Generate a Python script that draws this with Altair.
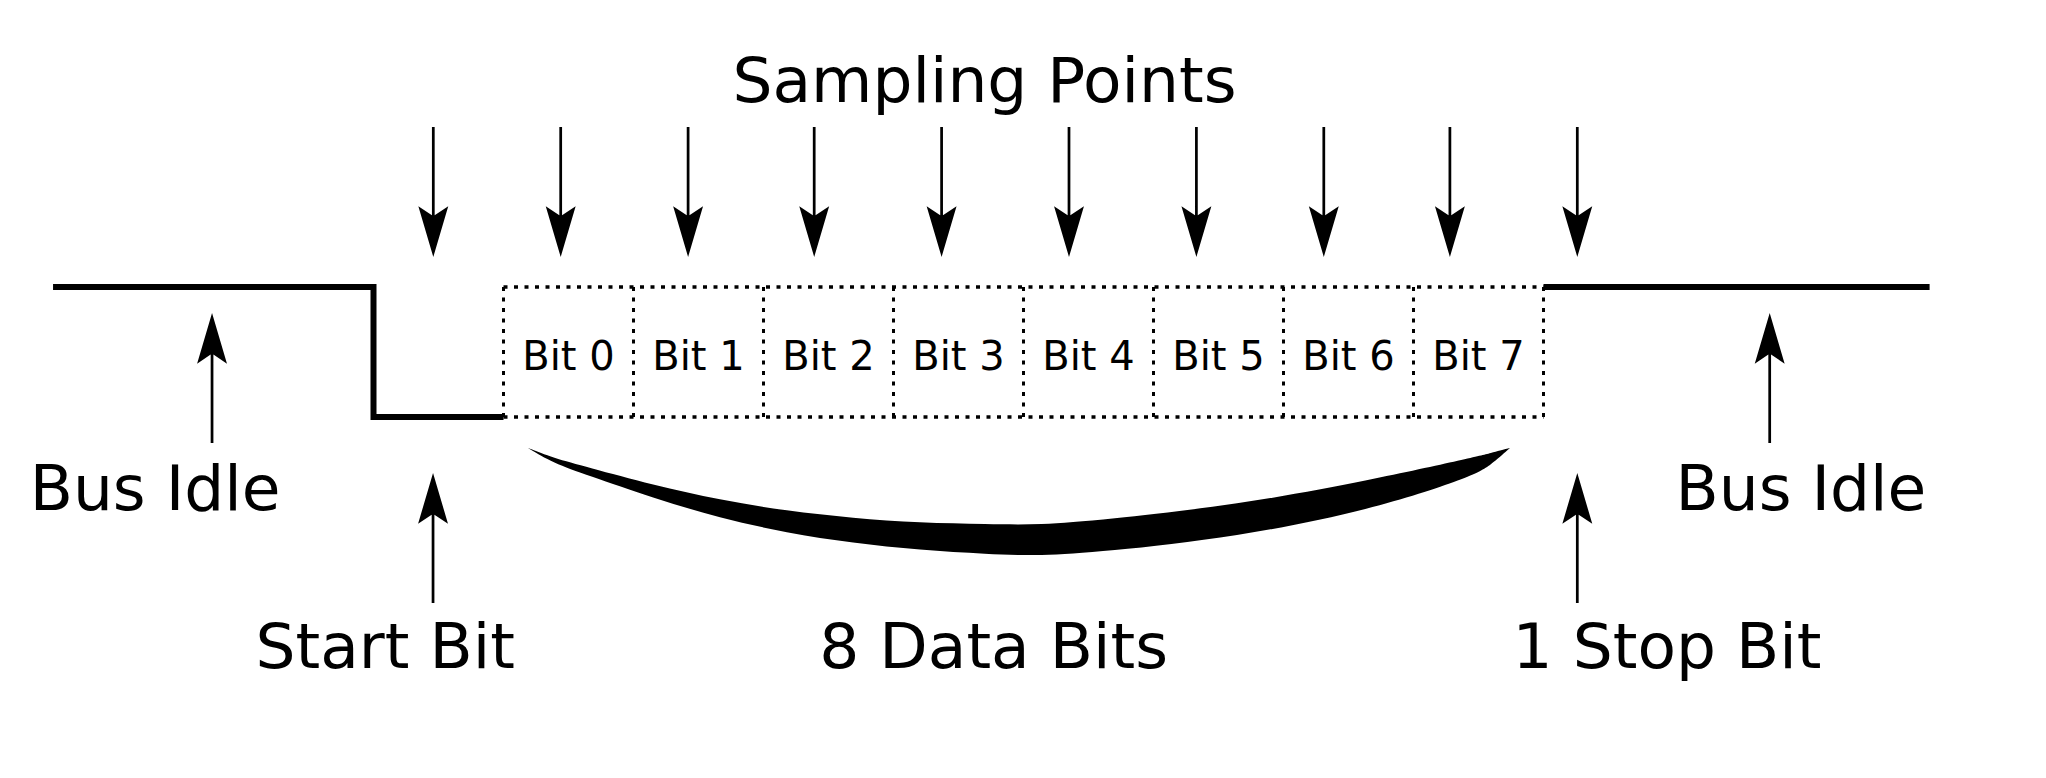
import altair as alt
import pandas as pd

# x: time in bit periods (0 = falling edge of the start bit)
# y: signal level (0 = low, 1 = high), same unit length as one bit period
signal_t = [-2.465, 0.0, 0.0, 1.0, 9.0, 11.97]
signal_v = [1, 1, 0, 0, 1, 1]
signal_seg = ["frame", "frame", "frame", "frame", "idle", "idle"]

bit_labels = ["Bit 0", "Bit 1", "Bit 2", "Bit 3", "Bit 4", "Bit 5", "Bit 6", "Bit 7"]
bit_edges = [1, 2, 3, 4, 5, 6, 7, 8, 9]

sample_t = [0.46, 1.44, 2.42, 3.39, 4.37, 5.35, 6.33, 7.31, 8.28, 9.26]
sample_tip = 1.231

marker_t = [-1.242, 0.458, 9.26, 10.74]
marker_tip = [0.8, -0.431, -0.431, 0.8]

labels = ["Sampling Points", "Bus Idle", "Start Bit", "8 Data Bits", "1 Stop Bit", "Bus Idle"]
label_t = [4.70, -1.68, 0.09, 4.77, 9.95, 10.98]
label_v = [2.423, -0.715, -1.931, -1.931, -1.931, -0.715]

brace_t = [1.188, 1.381, 1.642, 2.150, 2.665, 3.181, 3.688, 4.204, 4.719, 5.127,
           5.612, 6.642, 7.673, 8.442, 8.596, 8.742]
brace_top = [-0.238, -0.315, -0.385, -0.523, -0.638, -0.723, -0.777, -0.815, -0.823, -0.831,
             -0.792, -0.677, -0.485, -0.315, -0.277, -0.238]
brace_bottom = [-0.238, -0.354, -0.446, -0.623, -0.777, -0.892, -0.969, -1.023, -1.054, -1.069,
                -1.038, -0.923, -0.715, -0.462, -0.369, -0.238]

W, H = 2030, 758
UNIT = 130.0
T0 = -(373.5 - 8) / UNIT
V1 = (417 - 8) / UNIT
xs = alt.Scale(domain=[T0, T0 + W / UNIT], nice=False, zero=False)
ys = alt.Scale(domain=[V1 - H / UNIT, V1], nice=False, zero=False)

ARROW_DOWN = "M0,0L-0.23,-0.78L-0.021,-0.64L-0.021,-2L0.021,-2L0.021,-0.64L0.23,-0.78Z"
ARROW_UP = "M0,0L-0.23,0.78L-0.021,0.64L-0.021,2L0.021,2L0.021,0.64L0.23,0.78Z"
FONT = "DejaVu Sans"

signal = pd.DataFrame({"t": signal_t, "v": signal_v, "seg": signal_seg, "i": range(len(signal_t))})
line = alt.Chart(signal).mark_line(color="black", strokeWidth=6, strokeJoin="miter").encode(
    x=alt.X("t:Q", scale=xs, axis=None),
    y=alt.Y("v:Q", scale=ys, axis=None),
    detail="seg:N",
    order="i:Q",
)

box_h = pd.DataFrame({"t": [bit_edges[0]] * 2, "t2": [bit_edges[-1]] * 2, "v": [0, 1]})
dotted_h = alt.Chart(box_h).mark_rule(color="black", strokeWidth=3.5, strokeDash=[4, 6.5]).encode(
    x=alt.X("t:Q", scale=xs, axis=None), x2="t2:Q", y=alt.Y("v:Q", scale=ys, axis=None)
)
box_v = pd.DataFrame({"t": bit_edges, "v": 0, "v2": 1})
dotted_v = alt.Chart(box_v).mark_rule(color="black", strokeWidth=3, strokeDash=[4, 6.5]).encode(
    x=alt.X("t:Q", scale=xs, axis=None), y=alt.Y("v:Q", scale=ys, axis=None), y2="v2:Q"
)

bits = pd.DataFrame({"label": bit_labels, "t": [e + 0.5 for e in bit_edges[:-1]], "v": 0.362})
bit_text = alt.Chart(bits).mark_text(
    font=FONT, fontSize=40, align="center", baseline="alphabetic", color="black"
).encode(x=alt.X("t:Q", scale=xs, axis=None), y=alt.Y("v:Q", scale=ys, axis=None), text="label:N")

arrows = pd.DataFrame({
    "t": sample_t + marker_t,
    "v": [sample_tip] * len(sample_t) + marker_tip,
    "dir": ["down"] * len(sample_t) + ["up"] * len(marker_t),
})
arrow_marks = alt.Chart(arrows).mark_point(
    filled=True, opacity=1, size=16900, color="black", strokeWidth=0
).encode(
    x=alt.X("t:Q", scale=xs, axis=None),
    y=alt.Y("v:Q", scale=ys, axis=None),
    shape=alt.Shape("dir:N", scale=alt.Scale(domain=["down", "up"], range=[ARROW_DOWN, ARROW_UP]), legend=None),
)

brace = pd.DataFrame({"t": brace_t, "top": brace_top, "bottom": brace_bottom})
brace_mark = alt.Chart(brace).mark_area(color="black", interpolate="basis", opacity=1).encode(
    x=alt.X("t:Q", scale=xs, axis=None),
    y=alt.Y("top:Q", scale=ys, axis=None),
    y2="bottom:Q",
)

text = pd.DataFrame({"label": labels, "t": label_t, "v": label_v})
text_marks = alt.Chart(text).mark_text(
    font=FONT, fontSize=63, align="center", baseline="alphabetic", color="black"
).encode(x=alt.X("t:Q", scale=xs, axis=None), y=alt.Y("v:Q", scale=ys, axis=None), text="label:N")

chart = (
    alt.layer(brace_mark, dotted_h, dotted_v, line, arrow_marks, bit_text, text_marks)
    .properties(width=W, height=H, padding=0, autosize="none", background="white")
    .configure_view(stroke=None)
)

chart.save("out.html", embed_options={"renderer": "svg", "actions": False})
